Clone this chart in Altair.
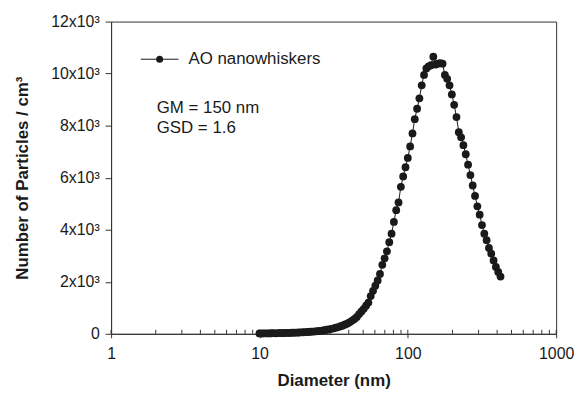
import altair as alt
import pandas as pd

# Diameter channels (nm), 64 per decade
diameters = [10.00, 10.37, 10.75, 11.14, 11.55, 11.97, 12.41, 12.86, 13.34, 13.82,
             14.33, 14.86, 15.40, 15.97, 16.55, 17.15, 17.78, 18.43, 19.11, 19.81,
             20.54, 21.29, 22.07, 22.88, 23.71, 24.58, 25.48, 26.42, 27.38, 28.39,
             29.43, 30.51, 31.62, 32.78, 33.98, 35.23, 36.52, 37.86, 39.24, 40.68,
             42.17, 43.71, 45.32, 46.98, 48.70, 50.48, 52.33, 54.25, 56.23, 58.30,
             60.43, 62.65, 64.94, 67.32, 69.79, 72.34, 74.99, 77.74, 80.59, 83.54,
             86.60, 89.78, 93.07, 96.48, 100.0, 103.7, 107.5, 111.4, 115.5, 119.7,
             124.1, 128.6, 133.4, 138.2, 143.3, 148.6, 154.0, 159.7, 165.5, 171.5,
             177.8, 184.3, 191.1, 198.1, 205.4, 212.9, 220.7, 228.8, 237.1, 245.8,
             254.8, 264.2, 273.8, 283.9, 294.3, 305.1, 316.2, 327.8, 339.8, 352.3,
             365.2, 378.6, 392.4, 406.8, 421.7]

# Number concentration (particles / cm3)
counts = [15, 12, 18, 20, 15, 22, 25, 20, 28, 30,
          25, 30, 35, 32, 40, 45, 42, 50, 55, 60,
          65, 70, 78, 85, 90, 100, 110, 125, 140, 155,
          170, 190, 210, 235, 260, 290, 320, 360, 400, 450,
          510, 570, 650, 760, 860, 960, 1080, 1200, 1450, 1650,
          1850, 2050, 2300, 2650, 2900, 3170, 3520, 3850, 4300, 4750,
          5050, 5650, 6050, 6400, 6760, 7200, 7700, 8250, 8650, 9050,
          9550, 9950, 10200, 10280, 10320, 10650, 10350, 10380, 10400, 10380,
          9950, 9800, 9550, 9200, 8800, 8330, 7750, 7550, 7250, 6900,
          6500, 6100, 5700, 5300, 4900, 4580, 4180, 3850, 3600, 3300,
          3080, 2820, 2570, 2380, 2200]

x_major = [1, 10, 100, 1000]
x_minor = [2, 3, 4, 5, 6, 7, 8, 9, 20, 30, 40, 50, 60, 70, 80, 90,
           200, 300, 400, 500, 600, 700, 800, 900]
y_ticks = [0, 2000, 4000, 6000, 8000, 10000, 12000]

series_name = "AO nanowhiskers"
stats_lines = ["GM = 150 nm", "GSD = 1.6"]

df = pd.DataFrame({"d": diameters, "n": counts})

FONT = "Liberation Sans"
INK = "#1a1a1a"
AXC = "#333333"
H = 315

major_test = "datum.value==1||datum.value==10||datum.value==100||datum.value==1000"

x_scale = alt.Scale(type="log", domain=[1, 1000], nice=False)
x_enc = alt.X("d:Q", scale=x_scale,
              axis=alt.Axis(values=x_major + x_minor, title="Diameter (nm)",
                            labelExpr="(" + major_test + ") ? format(datum.value,'d') : ''",
                            labelOverlap=False, labelFlush=False,
                            tickSize={"condition": {"test": major_test, "value": 4}, "value": 0},
                            labelPadding=8, titlePadding=11))
y_enc = alt.Y("n:Q", scale=alt.Scale(domain=[0, 12000], nice=False),
              axis=alt.Axis(values=y_ticks, title="Number of Particles / cm³",
                            labelExpr="datum.value==0 ? '0' : format(datum.value/1000,'d') + 'x10³'",
                            tickSize=6, labelPadding=6, titlePadding=19))

line = alt.Chart(df).mark_line(color=INK, strokeWidth=1).encode(x=x_enc, y=y_enc)
pts = alt.Chart(df).mark_point(filled=True, color=INK, size=62, opacity=1).encode(x=x_enc, y=y_enc)

# inner tick marks on the bottom axis (major ones cross the axis)
maj_df = pd.DataFrame({"d": x_major})
min_df = pd.DataFrame({"d": x_minor})
in_major = alt.Chart(maj_df).mark_rule(color=AXC, strokeWidth=1).encode(
    x=alt.X("d:Q", scale=x_scale), y=alt.value(H), y2=alt.value(H - 4))
in_minor = alt.Chart(min_df).mark_rule(color=AXC, strokeWidth=1).encode(
    x=alt.X("d:Q", scale=x_scale), y=alt.value(H), y2=alt.value(H - 4))

one = alt.Data(values=[{"k": 1}])
leg_line = alt.Chart(one).mark_rule(color=INK, strokeWidth=1).encode(
    x=alt.value(30), x2=alt.value(68), y=alt.value(38))
leg_pt = alt.Chart(one).mark_point(filled=True, color=INK, size=50, opacity=1).encode(
    x=alt.value(49), y=alt.value(38))
leg_txt = alt.Chart(one).mark_text(align="left", baseline="middle", font=FONT,
                                   fontSize=17, color=INK).encode(
    x=alt.value(78), y=alt.value(38), text=alt.value(series_name))
gm_txt = alt.Chart(one).mark_text(align="left", baseline="middle", font=FONT,
                                  fontSize=17, color=INK).encode(
    x=alt.value(46), y=alt.value(87), text=alt.value(stats_lines[0]))
gsd_txt = alt.Chart(one).mark_text(align="left", baseline="middle", font=FONT,
                                   fontSize=17, color=INK).encode(
    x=alt.value(46), y=alt.value(107), text=alt.value(stats_lines[1]))

chart = alt.layer(in_major, in_minor, line, pts, leg_line, leg_pt, leg_txt, gm_txt, gsd_txt).properties(
    width=449, height=H,
    autosize=alt.AutoSizeParams(type="none"),
    padding={"left": 104, "top": 12, "right": 18, "bottom": 54},
).configure_view(
    stroke=AXC, strokeWidth=1
).configure_axis(
    grid=False, domainColor=AXC, tickColor=AXC,
    labelFont=FONT, labelFontSize=16, labelColor=INK,
    titleFont=FONT, titleFontSize=17, titleFontWeight="bold", titleColor=INK,
)

chart.save("out.html", embed_options={"renderer": "svg", "actions": False})
